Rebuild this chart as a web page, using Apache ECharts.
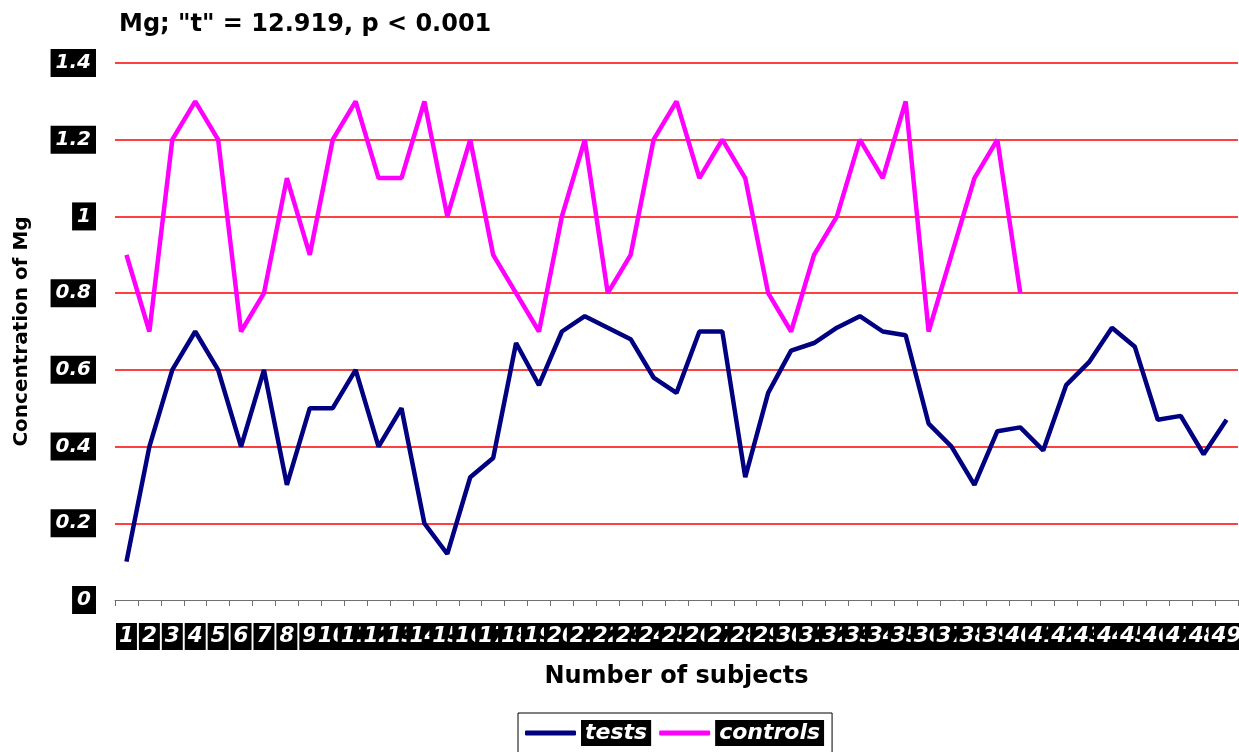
<!DOCTYPE html>
<html>
<head>
<meta charset="utf-8">
<script src="https://cdn.jsdelivr.net/npm/echarts@6/dist/echarts.min.js"></script>
<style>html,body{margin:0;padding:0;background:#fff;}#c{width:1239px;height:752px;}</style>
</head>
<body>
<div id="c"></div>
<script>
const categories = ['1','2','3','4','5','6','7','8','9','10','11','12','13','14','15','16','17','18','19','20','21','22','23','24','25','26','27','28','29','30','31','32','33','34','35','36','37','38','39','40','41','42','43','44','45','46','47','48','49'];
const tests = [0.10,0.40,0.60,0.70,0.60,0.40,0.60,0.30,0.50,0.50,0.60,0.40,0.50,0.20,0.12,0.32,0.37,0.67,0.56,0.70,0.74,0.71,0.68,0.58,0.54,0.70,0.70,0.32,0.54,0.65,0.67,0.71,0.74,0.70,0.69,0.46,0.40,0.30,0.44,0.45,0.39,0.56,0.62,0.71,0.66,0.47,0.48,0.38,0.47];
const controls = [0.9,0.7,1.2,1.3,1.2,0.7,0.8,1.1,0.9,1.2,1.3,1.1,1.1,1.3,1.0,1.2,0.9,0.8,0.7,1.0,1.2,0.8,0.9,1.2,1.3,1.1,1.2,1.1,0.8,0.7,0.9,1.0,1.2,1.1,1.3,0.7,0.9,1.1,1.2,0.8];
const yTicks = [0,0.2,0.4,0.6,0.8,1,1.2,1.4];

const FONT = '"DejaVu Sans", sans-serif';
const chart = echarts.init(document.getElementById('c'), null, {renderer:'canvas'});
chart.setOption({
  animation: false,
  backgroundColor: '#fff',
  title: {
    text: 'Mg; "t" = 12.919, p < 0.001',
    left: 114, top: 8,
    textStyle: {fontFamily: FONT, fontWeight: 'bold', fontSize: 24, color: '#000'}
  },
  grid: {left: 115, right: 1, top: 63, bottom: 152, containLabel: false, outerBoundsMode: 'none'},
  legend: {
    top: 713, left: 518,
    padding: [7, 8, 30, 7],
    borderColor: '#000', borderWidth: 1,
    itemGap: 8, itemWidth: 51, itemHeight: 5,
    icon: 'roundRect',
    textStyle: {fontFamily: FONT, fontWeight: 'bold', fontStyle: 'italic', fontSize: 22, color: '#fff',
      backgroundColor: '#000', padding: [1, 4, 1, 4], lineHeight: 24}
  },
  xAxis: {
    type: 'category', data: categories, boundaryGap: true,
    name: 'Number of subjects', nameLocation: 'middle', nameGap: 65,
    nameTextStyle: {fontFamily: FONT, fontWeight: 'bold', fontSize: 24, color: '#000'},
    axisLine: {lineStyle: {color: '#707070', width: 1}},
    axisTick: {show: true, interval: 0, length: 6, lineStyle: {color: '#707070'}},
    axisLabel: {interval: 0, margin: 23, fontFamily: FONT, fontWeight: 'bold', fontStyle: 'italic',
      fontSize: 21.5, color: '#fff', backgroundColor: '#000', padding: [3, 3, 3, 3], lineHeight: 21}
  },
  yAxis: {
    type: 'value', min: 0, max: 1.4, interval: 0.2,
    name: 'Concentration of Mg', nameLocation: 'middle', nameGap: 83, nameRotate: 90,
    nameTextStyle: {fontFamily: FONT, fontWeight: 'bold', fontSize: 20, color: '#000'},
    axisLine: {show: false}, axisTick: {show: false},
    axisLabel: {margin: 19, fontFamily: FONT, fontWeight: 'bold', fontStyle: 'italic', fontSize: 20,
      color: '#fff', backgroundColor: '#000', padding: [4, 5, 4, 5], lineHeight: 20,
      formatter: v => String(Math.round(v * 10) / 10)},
    splitLine: {show: true, lineStyle: {color: yTicks.map((t, i) => i === 0 ? 'rgba(0,0,0,0)' : '#ff0000'), width: 1.5}}
  },
  series: [
    {name: 'tests', type: 'line', data: tests, symbol: 'none', showSymbol: false,
      lineStyle: {color: '#000080', width: 4.5}, itemStyle: {color: '#000080'}},
    {name: 'controls', type: 'line', data: controls, symbol: 'none', showSymbol: false,
      lineStyle: {color: '#ff00ff', width: 4.5}, itemStyle: {color: '#ff00ff'}}
  ]
});
</script>
</body>
</html>
